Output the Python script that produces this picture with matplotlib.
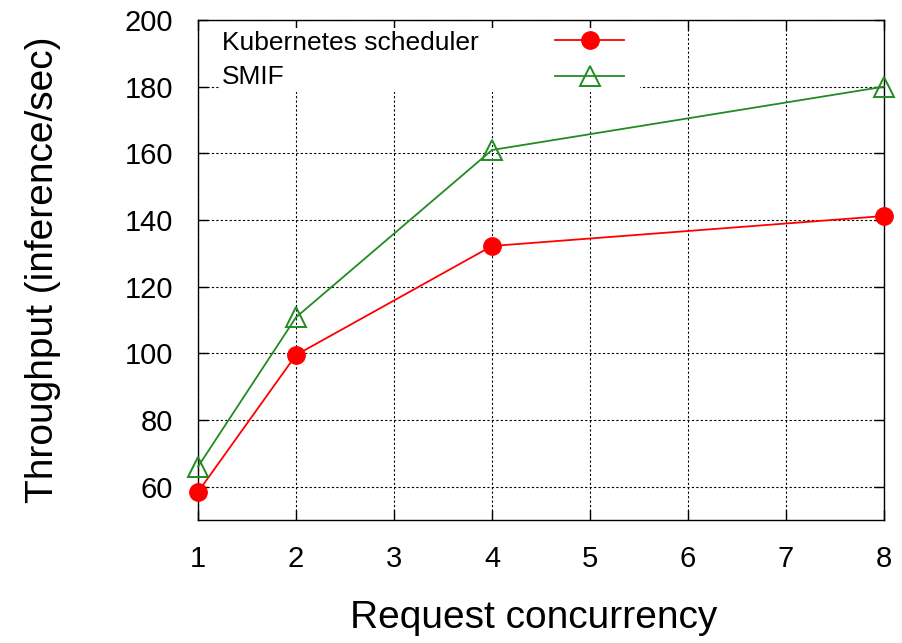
import matplotlib
matplotlib.use("Agg")
import matplotlib.pyplot as plt
from matplotlib.patches import Rectangle

plt.rcParams['font.family'] = ['Liberation Sans', 'DejaVu Sans']

# concurrency levels and measured throughput
concurrency = [1, 2, 4, 8]
kube_tput = [58.4, 99.5, 132.2, 141.2]
smif_tput = [66.0, 110.8, 161.0, 180.0]
series_names = ['Kubernetes scheduler', 'SMIF']

fig = plt.figure(figsize=(9.02, 6.43), dpi=100)
ax = fig.add_axes([198 / 902, 1 - 520 / 643, (884 - 198) / 902, (520 - 20) / 643])

l1, = ax.plot(concurrency, kube_tput, color='#ff0000', lw=1.3, marker='o', ms=12.5,
              mfc='#ff0000', mec='#ff0000', clip_on=False, zorder=3)
l2, = ax.plot(concurrency, smif_tput, color='#228b22', lw=1.3, marker='^', ms=14,
              mfc='none', mec='#228b22', mew=1.4, clip_on=False, zorder=3)

ax.set_xlim(1, 8)
ax.set_ylim(50, 200)
ax.set_xticks(range(1, 9))
ax.set_yticks(range(60, 201, 20))
ax.tick_params(direction='in', length=7, width=1, labelsize=21, top=True, right=True, pad=18)
ax.grid(True, color='black', ls=(0, (2, 2)), lw=0.8)
ax.set_axisbelow(True)
for s in ax.spines.values():
    s.set_linewidth(1)

ax.set_xlabel('Request concurrency', fontsize=28)
ax.set_ylabel('Throughput (inference/sec)', fontsize=28)
ax.xaxis.set_label_coords(0.49, -0.16)
ax.yaxis.set_label_coords(-0.2, 0.5)

# key: white box hiding the grid, labels on the left, samples on the right
ax.add_patch(Rectangle((0.032, 0.856), 0.612, 0.128, transform=ax.transAxes,
                       facecolor='white', edgecolor='none', zorder=1))
key_y = [0.954, 0.886]
for name, yy in zip(series_names, key_y):
    ax.text(0.035, yy, name, transform=ax.transAxes, fontsize=19, ha='left', va='center', zorder=4)
ax.legend([l1, l2], ['', ''], loc='center', bbox_to_anchor=(0.571, 0.92),
          frameon=False, fontsize=19, handlelength=2.6, handletextpad=0,
          borderpad=0, borderaxespad=0, labelspacing=0.45, markerfirst=False)

fig.savefig('out.png', dpi=100)
